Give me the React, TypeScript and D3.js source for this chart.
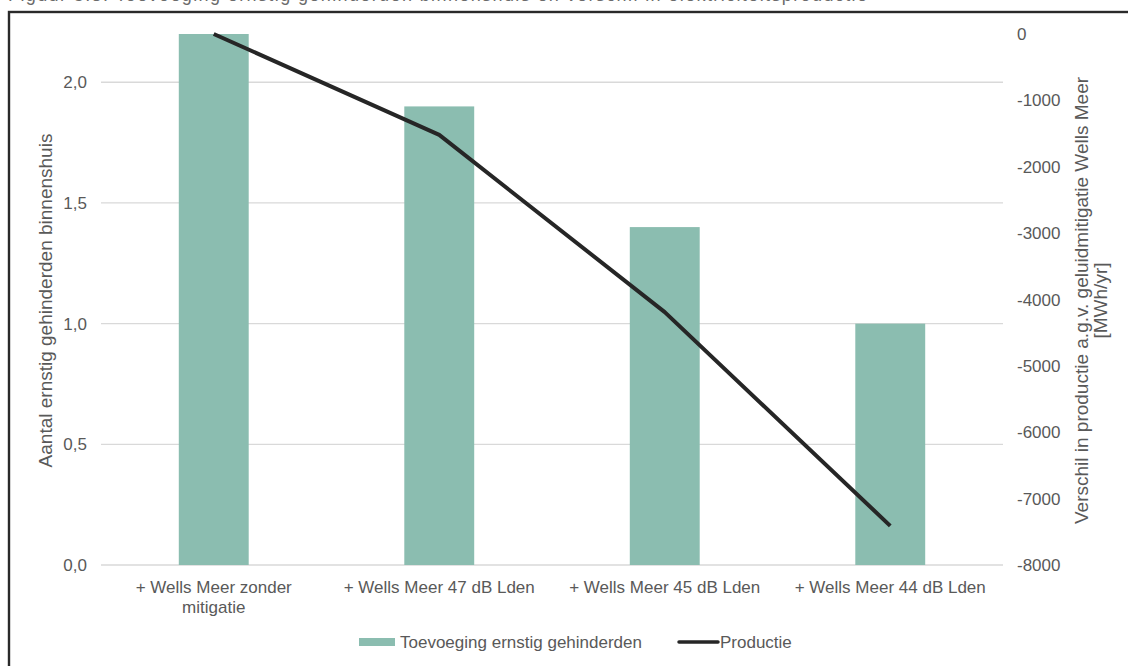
import React from "react";
import * as d3 from "d3";

const categories: string[][] = [
  ["+ Wells Meer zonder", "mitigatie"],
  ["+ Wells Meer 47 dB Lden"],
  ["+ Wells Meer 45 dB Lden"],
  ["+ Wells Meer 44 dB Lden"],
];
const hinderValues = [2.2, 1.9, 1.4, 1.0];
const productieValues = [0, -1520, -4190, -7410];
const leftTicks = [0, 0.5, 1.0, 1.5, 2.0];
const rightTicks = [0, -1000, -2000, -3000, -4000, -5000, -6000, -7000, -8000];

const W = 1128;
const H = 666;
const plot = { left: 101, right: 1003, top: 34, bottom: 565 };
const FONT = "'Liberation Sans', Arial, sans-serif";
const TEXT = "#595959";
const BAR = "#8bbdb0";
const LINE = "#262626";

export default function App() {
  const x = d3
    .scaleBand<number>()
    .domain(d3.range(categories.length))
    .range([plot.left, plot.right])
    .paddingInner(0.69)
    .paddingOuter(0.345);
  const xc = (i: number) => (x(i) as number) + x.bandwidth() / 2;
  const yL = d3.scaleLinear().domain([0, 2.2]).range([plot.bottom, plot.top]);
  const yR = d3.scaleLinear().domain([-8000, 0]).range([plot.bottom, plot.top]);
  const fmtL = (v: number) => d3.format(".1f")(v).replace(".", ",");
  const line = d3
    .line<number>()
    .x((_, i) => xc(i))
    .y((d) => yR(d));
  const midY = (plot.top + plot.bottom) / 2;

  return (
    <div style={{ position: "absolute", left: 0, top: 0 }}>
      <svg width={W} height={H} style={{ display: "block", fontFamily: FONT }}>
        <rect width={W} height={H} fill="#fff" />
        {/* caption sits above the frame; only its lower edge falls inside the page */}
        <text x={8} y={0.5} fontSize={18} fill="#6b6b6b" textLength={859} lengthAdjust="spacing">
          Figuur 5.3: Toevoeging ernstig gehinderden binnenshuis en verschil in elektriciteitsproductie
        </text>
        <rect x={9} y={12} width={W + 10} height={H + 10} fill="none" stroke="#2a2a2a" strokeWidth={2.4} />

        {leftTicks.map((t) => (
          <g key={t}>
            <line x1={plot.left} x2={plot.right} y1={yL(t)} y2={yL(t)} stroke="#d9d9d9" strokeWidth={1.3} />
            <text x={87} y={yL(t) + 6} textAnchor="end" fontSize={17} fill={TEXT}>
              {fmtL(t)}
            </text>
          </g>
        ))}
        {rightTicks.map((t) => (
          <text key={t} x={1017} y={yR(t) + 6} fontSize={17} fill={TEXT}>
            {t}
          </text>
        ))}

        {hinderValues.map((v, i) => (
          <rect key={i} x={x(i)} y={yL(v)} width={x.bandwidth()} height={yL(0) - yL(v)} fill={BAR} />
        ))}
        <path d={line(productieValues) || ""} fill="none" stroke={LINE} strokeWidth={4} strokeLinejoin="round" />

        {categories.map((lines, i) => (
          <text key={i} x={xc(i)} y={593} textAnchor="middle" fontSize={17} fill={TEXT}>
            {lines.map((l, j) => (
              <tspan key={j} x={xc(i)} dy={j === 0 ? 0 : 20}>
                {l}
              </tspan>
            ))}
          </text>
        ))}

        <text transform={`translate(52,${midY + 1}) rotate(-90)`} textAnchor="middle" fontSize={19} fill={TEXT}>
          Aantal ernstig gehinderden binnenshuis
        </text>
        <text transform={`translate(1088,${midY + 1}) rotate(-90)`} textAnchor="middle" fontSize={19} fill={TEXT}>
          <tspan x={0} dy={0}>Verschil in productie a.g.v. geluidmitigatie Wells Meer</tspan>
          <tspan x={0} dy={19}>[MWh/yr]</tspan>
        </text>

        <rect x={359} y={638} width={36} height={8} fill={BAR} />
        <text x={400} y={648} fontSize={17} fill={TEXT}>
          Toevoeging ernstig gehinderden
        </text>
        <line x1={679} x2={718} y1={642} y2={642} stroke={LINE} strokeWidth={3.5} strokeLinecap="round" />
        <text x={720} y={648} fontSize={17} fill={TEXT}>
          Productie
        </text>
      </svg>
    </div>
  );
}
